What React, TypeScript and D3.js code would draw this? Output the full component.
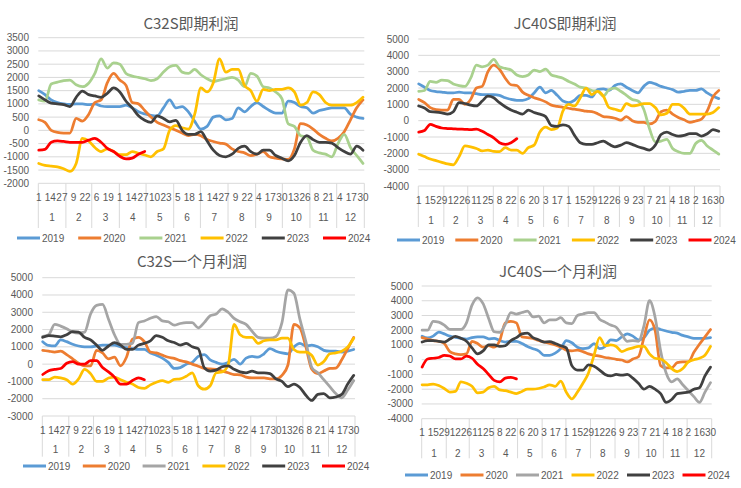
import React from 'react';
import * as d3 from 'd3';

// ---------- shared categories ----------
const YEARS = ['2019', '2020', '2021', '2022', '2023', '2024'];
const MONTHS = ['1', '2', '3', '4', '5', '6', '7', '8', '9', '10', '11', '12'];
const MONTH_DAYS = [31, 29, 31, 30, 31, 30, 31, 31, 30, 31, 30, 31];
const SAMPLE_STEP = 7; // values below are read every 7 days starting Jan 1

const TICKS_13 = ['01-01', '01-14', '01-27', '02-09', '02-22', '03-06', '03-19', '04-01', '04-14', '04-27', '05-10', '05-23', '06-05', '06-18', '07-01', '07-14', '07-27', '08-09', '08-22', '09-04', '09-17', '09-30', '10-13', '10-26', '11-08', '11-21', '12-04', '12-17', '12-30'];
const TICKS_14 = ['01-01', '01-15', '01-29', '02-12', '02-26', '03-11', '03-25', '04-08', '04-22', '05-06', '05-20', '06-03', '06-17', '07-01', '07-15', '07-29', '08-12', '08-26', '09-09', '09-23', '10-07', '10-21', '11-04', '11-18', '12-02', '12-16', '12-30'];

// ---------- C32S 即期利润 ----------
const C32S_SPOT_2019 = [1500, 1350, 1150, 1050, 1000, 980, 1000, 1000, 970, 1000, 920, 900, 900, 900, 950, 850, 700, 620, 570, 550, 850, 1150, 850, 900, 700, 350, 50, 150, 500, 550, 400, 450, 850, 700, 900, 1050, 900, 750, 650, 650, 1100, 1050, 900, 850, 650, 750, 800, 850, 850, 850, 600, 500, 450];
const C32S_SPOT_2020 = [400, 300, 0, -80, -100, -100, 450, 350, 600, 1050, 1150, 1800, 2150, 1900, 1700, 1050, 1000, 750, 500, 300, 200, 100, 0, -100, -200, -150, -200, -350, -420, -480, -520, -700, -800, -850, -950, -900, -800, -1000, -1050, -1080, -1100, -700, 250, 200, 50, -150, -300, -400, -300, -50, 400, 850, 1150];
const C32S_SPOT_2021 = [1150, 1100, 1750, 1820, 1880, 1900, 1720, 1650, 1780, 2150, 2700, 2350, 2550, 2500, 2150, 2050, 2000, 1950, 1880, 1950, 2200, 2400, 2450, 2200, 2150, 2300, 2100, 1950, 1850, 1900, 1950, 2000, 1900, 1650, 2150, 2050, 1650, 1600, 1450, 1200, 250, 150, -200, -250, -750, -850, -900, -1000, -500, -150, -650, -950, -1250];
const C32S_SPOT_2022 = [-1250, -1320, -1350, -1380, -1450, -1550, -1250, -300, -400, -650, -800, -700, -800, -920, -920, -800, -870, -930, -1000, -800, -700, 0, 180, 100, 50, 600, 1600, 1450, 1800, 2700, 2200, 2300, 2300, 1700, 1500, 1100, 1550, 1500, 1550, 1550, 1600, 1450, 950, 1050, 1450, 1350, 1050, 950, 950, 950, 950, 1050, 1250];
const C32S_SPOT_2023 = [1300, 1150, 1030, 1000, 970, 900, 1250, 1480, 1350, 1300, 1250, 1400, 1600, 1450, 1100, 850, 550, 380, 300, 550, 450, 320, 380, 0, -150, -150, -50, -400, -750, -950, -1000, -900, -680, -600, -800, -900, -750, -750, -950, -1050, -1150, -950, -450, -200, -350, -450, -450, -480, -650, -800, -900, -600, -750];
const C32S_SPOT_2024 = [-750, -720, -450, -400, -420, -450, -450, -450, -370, -300, -450, -680, -800, -980, -1080, -1050, -900, -800];

// ---------- JC40S 即期利润 ----------
const JC40S_SPOT_2019 = [2250, 2050, 1850, 1780, 1750, 1700, 1700, 1750, 1700, 1700, 1650, 1600, 1600, 1600, 1550, 1400, 1300, 1250, 1250, 1350, 1700, 2050, 1700, 1850, 1550, 1200, 1100, 1250, 1550, 1550, 1450, 1900, 1950, 1850, 2150, 2250, 2050, 1850, 1700, 2100, 2350, 2250, 2100, 2000, 1900, 1750, 1800, 1850, 1850, 1950, 1700, 1500, 1350];
const JC40S_SPOT_2020 = [1300, 1100, 800, 680, 650, 650, 1300, 1300, 1000, 1300, 2000, 2100, 3000, 3400, 3150, 2600, 2200, 2150, 1750, 1550, 1400, 1300, 1150, 950, 880, 820, 760, 700, 650, 580, 550, 430, 250, 220, 150, 30, 250, 0, -100, -100, -200, -50, 550, 650, 400, 200, 50, -100, -20, 100, 600, 1450, 1850];
const JC40S_SPOT_2021 = [1800, 1850, 2400, 2350, 2480, 2450, 2250, 2150, 2100, 2600, 3400, 3300, 3400, 3750, 3300, 3200, 3100, 2800, 2700, 2800, 3100, 3000, 3150, 2800, 2700, 2600, 2400, 2250, 2050, 2000, 1850, 1800, 1500, 1900, 2000, 1800, 1550, 1300, 1200, 700, -500, -1300, -1250, -1150, -1700, -1900, -2000, -2000, -1400, -1200, -1550, -1800, -2050];
const JC40S_SPOT_2022 = [-2050, -2200, -2350, -2450, -2550, -2650, -2700, -2200, -1550, -1600, -1700, -1850, -1800, -1880, -1900, -1650, -1800, -1800, -2000, -1650, -1500, -700, -400, -550, -450, 600, 1000, 900, 1400, 2000, 1600, 1800, 1500, 800, 700, 600, 1050, 900, 950, 1050, 1050, 800, 350, 450, 1000, 1000, 750, 400, 400, 400, 400, 500, 800];
const JC40S_SPOT_2023 = [900, 780, 550, 530, 480, 400, 550, 1100, 1050, 950, 900, 1200, 1500, 1400, 1100, 850, 650, 520, 400, 650, 500, 400, 250, -300, -350, -250, -350, -900, -1350, -1450, -1450, -1350, -1250, -1450, -1600, -1500, -1350, -1450, -1600, -1700, -1800, -1500, -850, -700, -850, -950, -900, -800, -800, -950, -800, -550, -650];
const JC40S_SPOT_2024 = [-700, -600, -220, -350, -450, -480, -500, -520, -530, -550, -520, -650, -850, -1050, -1350, -1450, -1350, -1100];

// ---------- C32S 一个月利润 ----------
const C32S_1M_2019 = [1300, 1080, 1050, 1400, 1300, 1150, 1050, 1000, 1000, 1050, 1100, 1100, 1100, 1000, 950, 900, 850, 850, 650, 520, 350, 100, -250, -200, 0, 100, 450, 550, 250, 100, 0, 100, 280, 0, 350, 450, 400, 600, 900, 750, 650, 600, 1000, 1200, 1050, 1100, 1000, 800, 750, 750, 700, 750, 850];
const C32S_1M_2020 = [800, 750, 700, 750, 550, 300, 50, -100, -100, 800, 650, 300, 400, -100, 400, 1450, 1550, 1300, 700, 650, 520, 400, 330, 200, 130, 0, -120, -250, -280, -300, -400, -500, -600, -620, -750, -800, -800, -800, -850, -850, -650, -50, 2300, 2100, 1000, -300, -550, -400, -250, -230, 250, 900, 1550];
const C32S_1M_2021 = [1600, 1700, 2300, 2200, 2050, 1850, 1800, 1850, 2900, 3400, 3450, 2600, 1700, 1150, 1150, 1200, 2400, 2500, 2650, 2750, 2500, 2450, 2250, 2350, 2400, 2400, 2100, 2400, 2800, 2900, 3200, 3000, 2650, 2450, 2300, 1900, 1550, 1500, 1500, 1600, 2400, 4300, 4100, 2600, 1300, -200, -500, -900, -1300, -1700, -1950, -1500, -950];
const C32S_1M_2022 = [-900, -900, -750, -800, -900, -1150, -850, -300, -550, -1000, -1000, -800, -750, -900, -1050, -1150, -1350, -1400, -1200, -1050, -950, -1050, -880, -850, -700, -500, -1250, -1450, -1250, -500, -450, -50, 2300, 1700, 1550, 1550, 1200, 1350, 1400, 1400, 1500, 1500, 850, 700, 700, 500, -50, 150, 600, 650, 750, 1000, 1500];
const C32S_1M_2023 = [1550, 1650, 1620, 1580, 1700, 1880, 1850, 1550, 1400, 1100, 800, 1050, 1250, 1100, 850, 850, 1100, 1200, 1350, 1650, 1550, 1350, 1250, 1100, 1200, 1000, 900, -200, -400, -350, -150, -100, -300, -450, -500, -400, -500, -500, -550, -850, -1000, -1300, -1150, -1350, -1800, -2100, -1750, -1700, -1950, -1900, -1750, -1150, -650];
const C32S_1M_2024 = [-600, -380, -300, -250, 50, 150, 0, 0, 200, 200, -200, -450, -750, -1150, -1150, -950, -800, -900];

// ---------- JC40S 一个月利润 ----------
const JC40S_1M_2019 = [1600, 1480, 1600, 1870, 1750, 1600, 1520, 1450, 1400, 1500, 1550, 1550, 1420, 1450, 1300, 1200, 1250, 1250, 1100, 900, 750, 600, 300, 300, 450, 750, 1300, 1150, 850, 750, 800, 1100, 750, 900, 1350, 1300, 1550, 1750, 1600, 1350, 1500, 2000, 2150, 2050, 1950, 1850, 1800, 1650, 1550, 1450, 1450, 1450, 1500];
const JC40S_1M_2020 = [1500, 1400, 1300, 1250, 1100, 550, 400, 350, 400, 1250, 1100, 850, 950, 850, 1300, 2500, 2600, 2500, 1550, 1500, 1450, 1300, 1200, 1100, 1000, 850, 650, 600, 650, 550, 400, 300, 250, 150, 100, 30, -20, -150, 50, 200, 1500, 2700, 2000, -400, -550, -550, -200, -150, -150, 500, 1050, 1550, 2050];
const JC40S_1M_2021 = [2000, 2000, 2600, 2550, 2350, 2050, 2050, 2050, 2500, 3700, 4200, 3800, 2800, 1900, 1850, 2400, 3200, 3100, 3200, 3300, 2900, 2950, 2500, 2700, 2700, 2850, 2500, 2450, 3000, 3100, 3200, 3200, 2750, 2550, 2350, 2200, 1700, 1250, 1300, 1250, 2300, 4000, 2900, 600, -900, -1500, -1300, -1700, -2100, -2500, -2900, -2200, -1550];
const JC40S_1M_2022 = [-1700, -1700, -1650, -1750, -1950, -2200, -2150, -1500, -1600, -1800, -2250, -2200, -1900, -1800, -2050, -2100, -2200, -2300, -2150, -2000, -2000, -1950, -1850, -1700, -1800, -1450, -2200, -2650, -2200, -1600, -900, 300, 1500, 950, 1000, 900, 550, 700, 800, 900, 900, 400, 100, 50, -200, -600, -800, -600, -150, 0, 100, 300, 900];
const JC40S_1M_2023 = [1200, 1300, 1300, 1250, 1200, 1400, 1580, 1450, 1250, 800, 400, 600, 1000, 1000, 900, 950, 1300, 1500, 1750, 1800, 1500, 1350, 1200, 1220, 1100, 950, 800, -400, -700, -700, -350, -450, -700, -1000, -1100, -1000, -1050, -1000, -1250, -1600, -2000, -1800, -2000, -2300, -2900, -2700, -2300, -2250, -2200, -2000, -1900, -1100, -500];
const JC40S_1M_2024 = [-500, 50, 100, 150, 300, 250, 50, 50, 250, 100, -300, -600, -1000, -1400, -1500, -1250, -1200, -1300];

const COLORS_GREEN = ['#5B9BD5', '#ED7D31', '#A9D18E', '#FFC000', '#404040', '#FF0000'];
const COLORS_GRAY = ['#5B9BD5', '#ED7D31', '#A5A5A5', '#FFC000', '#404040', '#FF0000'];

const TEXT = '#595959';
const GRID = '#d9d9d9';
const NUM_FONT = '"Liberation Sans", Arial, sans-serif';
const CJK_FONT = '"Noto Sans CJK SC", "Noto Sans", sans-serif';

function dayIndex(md: string): number {
  const [m, d] = md.split('-').map(Number);
  let s = 0;
  for (let i = 0; i < m - 1; i++) s += MONTH_DAYS[i];
  return s + d - 1;
}

type PanelCfg = {
  title: string;
  series: number[][];
  colors: string[];
  ticks: string[];
  yDomain: [number, number];
  yStep: number;
  left: number; right: number; top: number; bottom: number;
  titleX: number; titleY: number;
  yLabelX: number;
  dayY: number; monthY: number; sepBottom: number;
  legendY: number; legendX0: number; legendStep: number;
};

const PANELS: PanelCfg[] = [
  {
    title: 'C32S即期利润',
    series: [C32S_SPOT_2019, C32S_SPOT_2020, C32S_SPOT_2021, C32S_SPOT_2022, C32S_SPOT_2023, C32S_SPOT_2024],
    colors: COLORS_GREEN, ticks: TICKS_13, yDomain: [-2000, 3500], yStep: 500,
    left: 38.3, right: 364.3, top: 37.7, bottom: 183.3,
    titleX: 191, titleY: 22.5, yLabelX: 29, dayY: 197.7, monthY: 217.7, sepBottom: 228,
    legendY: 238, legendX0: 17, legendStep: 61.2,
  },
  {
    title: 'JC40S即期利润',
    series: [JC40S_SPOT_2019, JC40S_SPOT_2020, JC40S_SPOT_2021, JC40S_SPOT_2022, JC40S_SPOT_2023, JC40S_SPOT_2024],
    colors: COLORS_GREEN, ticks: TICKS_14, yDomain: [-4000, 5000], yStep: 1000,
    left: 418.3, right: 720, top: 39, bottom: 186,
    titleX: 565, titleY: 22.5, yLabelX: 409, dayY: 200, monthY: 220, sepBottom: 227,
    legendY: 240, legendX0: 397, legendStep: 58.3,
  },
  {
    title: 'C32S一个月利润',
    series: [C32S_1M_2019, C32S_1M_2020, C32S_1M_2021, C32S_1M_2022, C32S_1M_2023, C32S_1M_2024],
    colors: COLORS_GRAY, ticks: TICKS_13, yDomain: [-3000, 5000], yStep: 1000,
    left: 42.3, right: 355, top: 277.7, bottom: 416,
    titleX: 192, titleY: 260, yLabelX: 33, dayY: 430, monthY: 449, sepBottom: 456.7,
    legendY: 466, legendX0: 23, legendStep: 59.8,
  },
  {
    title: 'JC40S一个月利润',
    series: [JC40S_1M_2019, JC40S_1M_2020, JC40S_1M_2021, JC40S_1M_2022, JC40S_1M_2023, JC40S_1M_2024],
    colors: COLORS_GRAY, ticks: TICKS_14, yDomain: [-4000, 5000], yStep: 1000,
    left: 421.7, right: 711.7, top: 286, bottom: 418.7,
    titleX: 558, titleY: 270, yLabelX: 413, dayY: 432.7, monthY: 453, sepBottom: 458.3,
    legendY: 475, legendX0: 405, legendStep: 55.5,
  },
];

function Panel({ cfg }: { cfg: PanelCfg }) {
  const x = d3.scaleLinear().domain([0, 366]).range([cfg.left, cfg.right]);
  const y = d3.scaleLinear().domain(cfg.yDomain).range([cfg.bottom, cfg.top]);
  const yTicks = d3.range(cfg.yDomain[0], cfg.yDomain[1] + 1, cfg.yStep);
  const line = d3
    .line<number>()
    .x((_, i) => x(i * SAMPLE_STEP + 0.5))
    .y((v) => y(v))
    .curve(d3.curveMonotoneX);
  const monthStarts = [0];
  MONTH_DAYS.forEach((d, i) => monthStarts.push(monthStarts[i] + d));

  return (
    <g>
      <text x={cfg.titleX} y={cfg.titleY} textAnchor="middle" dominantBaseline="central"
        fontFamily={CJK_FONT} fontSize={15} fill={TEXT}>{cfg.title}</text>
      {yTicks.map((t) => (
        <g key={t}>
          <line x1={cfg.left} x2={cfg.right} y1={y(t)} y2={y(t)} stroke={GRID} strokeWidth={1} />
          <text x={cfg.yLabelX} y={y(t)} textAnchor="end" dominantBaseline="central"
            fontFamily={NUM_FONT} fontSize={10} fill={TEXT}>{t}</text>
        </g>
      ))}
      {monthStarts.map((d, i) => (
        <line key={'s' + i} x1={x(d)} x2={x(d)} y1={cfg.bottom} y2={cfg.sepBottom} stroke={GRID} strokeWidth={1} />
      ))}
      {cfg.ticks.map((md, i) => (
        <text key={'d' + i} x={x(dayIndex(md) + 0.5)} y={cfg.dayY} textAnchor="middle" dominantBaseline="central"
          fontFamily={NUM_FONT} fontSize={10} fill={TEXT}>{String(Number(md.split('-')[1]))}</text>
      ))}
      {MONTHS.map((m, i) => (
        <text key={'m' + i} x={(x(monthStarts[i]) + x(monthStarts[i + 1])) / 2} y={cfg.monthY}
          textAnchor="middle" dominantBaseline="central" fontFamily={NUM_FONT} fontSize={10} fill={TEXT}>{m}</text>
      ))}
      {cfg.series.map((s, i) => (
        <path key={'p' + i} d={line(s) || ''} fill="none" stroke={cfg.colors[i]} strokeWidth={2.75}
          strokeLinejoin="round" strokeLinecap="round" />
      ))}
      {YEARS.map((yr, i) => {
        const lx = cfg.legendX0 + i * cfg.legendStep;
        return (
          <g key={'l' + i}>
            <line x1={lx} x2={lx + 23} y1={cfg.legendY} y2={cfg.legendY} stroke={cfg.colors[i]} strokeWidth={3} />
            <text x={lx + 25} y={cfg.legendY} dominantBaseline="central" fontFamily={NUM_FONT}
              fontSize={10} fill={TEXT}>{yr}</text>
          </g>
        );
      })}
    </g>
  );
}

export default function App() {
  return (
    <svg width={741} height={488} viewBox="0 0 741 488"
      style={{ position: 'absolute', left: 0, top: 0, background: '#ffffff' }}>
      <rect x={0} y={0} width={741} height={488} fill="#ffffff" />
      {PANELS.map((p, i) => (
        <Panel key={i} cfg={p} />
      ))}
    </svg>
  );
}
